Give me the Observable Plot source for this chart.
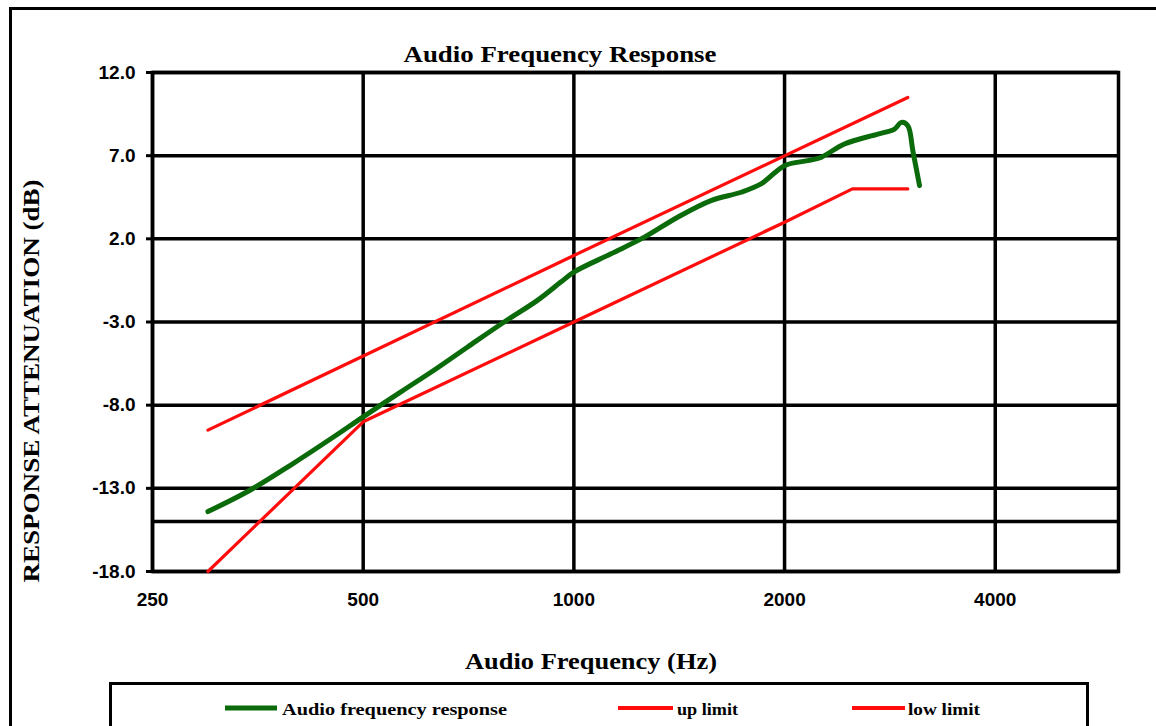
<!DOCTYPE html>
<html>
<head>
<meta charset="utf-8">
<script src="https://cdn.jsdelivr.net/npm/d3@7"></script>
<script src="https://cdn.jsdelivr.net/npm/@observablehq/plot@0.6"></script>
<style>
  html, body { margin: 0; padding: 0; background: #fff; }
  #wrap { position: relative; width: 1156px; height: 726px; overflow: hidden; background: #fff; }
  #outer { position: absolute; left: 9px; top: 7px; width: 1200px; height: 800px; border: 3px solid #000; }
  #legendbox { position: absolute; left: 109px; top: 682px; width: 974px; height: 100px; border: 3px solid #000; }
  #chart { position: absolute; left: 0; top: 0; }
  #overlay { position: absolute; left: 0; top: 0; pointer-events: none; }
</style>
</head>
<body>
<div id="wrap">
  <div id="outer"></div>
  <div id="legendbox"></div>
  <div id="chart"></div>
  <svg id="overlay" width="1156" height="726"></svg>
</div>
<script>
// ---- data ----
const respFreq = [300, 345, 394, 454, 500, 566, 631, 705, 795, 887, 958, 1000, 1130, 1261, 1407, 1570, 1733, 1851, 2000, 2158, 2255, 2435, 2719, 2872, 2936, 3000, 3050, 3118];
const respDb   = [-14.4, -13.1, -11.6, -9.9, -8.7, -7.2, -5.9, -4.5, -3.0, -1.7, -0.6, 0.0, 1.1, 2.1, 3.3, 4.3, 4.8, 5.3, 6.4, 6.7, 6.9, 7.7, 8.3, 8.6, 9.0, 8.8, 7.3, 5.2];
const upFreq = [300, 1000, 3000];
const upDb   = [-9.5, 1.0, 10.5];
const lowFreq = [300, 500, 1000, 2000, 2500, 3000];
const lowDb   = [-18.0, -9.0, -3.0, 3.0, 5.0, 5.0];
const xTicks = [250, 500, 1000, 2000, 4000];
const yTicks = [12, 7, 2, -3, -8, -13, -18];
const extraGrid = [-15];
const seriesNames = ["Audio frequency response", "up limit", "low limit"];
const seriesColors = ["#0b6b0b", "#ff0d0d", "#ff0d0d"];
const titleText = "Audio Frequency Response";
const xTitle = "Audio Frequency (Hz)";
const yTitle = "RESPONSE ATTENUATION (dB)";

const resp = respFreq.map((f, i) => ({f, v: respDb[i]}));
const up = upFreq.map((f, i) => ({f, v: upDb[i]}));
const low = lowFreq.map((f, i) => ({f, v: lowDb[i]}));

const tickFont = "'Liberation Sans Narrow', 'Liberation Sans', Arial, sans-serif";

const chart = Plot.plot({
  width: 1156,
  height: 640,
  marginLeft: 152,
  marginRight: 38,
  marginTop: 72,
  marginBottom: 69,
  style: {background: "transparent", fontFamily: tickFont, fontSize: "19px", fontWeight: "bold", color: "#000", overflow: "visible"},
  x: {type: "log", domain: [250, 6000]},
  y: {domain: [-18, 12]},
  marks: [
    Plot.ruleY(yTicks, {stroke: "#000", strokeWidth: 3.5}),
    Plot.ruleY(extraGrid, {stroke: "#000", strokeWidth: 3.5}),
    Plot.ruleX(xTicks, {stroke: "#000", strokeWidth: 3.5}),
    Plot.frame({stroke: "#000", strokeWidth: 3.5}),
    Plot.axisY(yTicks, {tickSize: 6, tickPadding: 11, strokeWidth: 3, tickFormat: d => d.toFixed(1), label: null}),
    Plot.axisX(xTicks, {tickSize: 0, tickPadding: 21, tickFormat: d => String(d), label: null}),
    Plot.line(up, {x: "f", y: "v", stroke: seriesColors[1], strokeWidth: 3.2}),
    Plot.line(low, {x: "f", y: "v", stroke: seriesColors[2], strokeWidth: 3.2}),
    Plot.line(resp, {x: "f", y: "v", stroke: seriesColors[0], strokeWidth: 5, curve: "catmull-rom"})
  ]
});
document.getElementById("chart").appendChild(chart);

// ---- titles & legend ----
const ov = d3.select("#overlay");
const serif = "'Liberation Serif', 'Times New Roman', serif";
function txt(s, x, y, size, len, opts = {}) {
  const t = ov.append("text").attr("x", x).attr("y", y).attr("font-family", opts.family || serif)
    .attr("font-size", size).attr("font-weight", "bold").attr("fill", "#000")
    .attr("text-anchor", opts.anchor || "middle").text(s);
  if (len) t.attr("textLength", len).attr("lengthAdjust", "spacingAndGlyphs");
  if (opts.rotate) t.attr("transform", `rotate(-90 ${x} ${y})`);
  return t;
}
txt(titleText, 560, 62, 23, 313);
txt(xTitle, 591, 669, 23, 252);
txt(yTitle, 39, 381, 24, 403, {rotate: true});

const legendItems = [
  {x0: 225, x1: 277, tx: 282, len: 225},
  {x0: 618, x1: 673, tx: 677, len: 61},
  {x0: 852, x1: 905, tx: 908, len: 72}
];
legendItems.forEach((it, i) => {
  ov.append("line").attr("x1", it.x0).attr("x2", it.x1).attr("y1", 708).attr("y2", 708)
    .attr("stroke", seriesColors[i]).attr("stroke-width", i === 0 ? 5 : 4);
  txt(seriesNames[i], it.tx, 715, 16, it.len, {anchor: "start"});
});
</script>
</body>
</html>
